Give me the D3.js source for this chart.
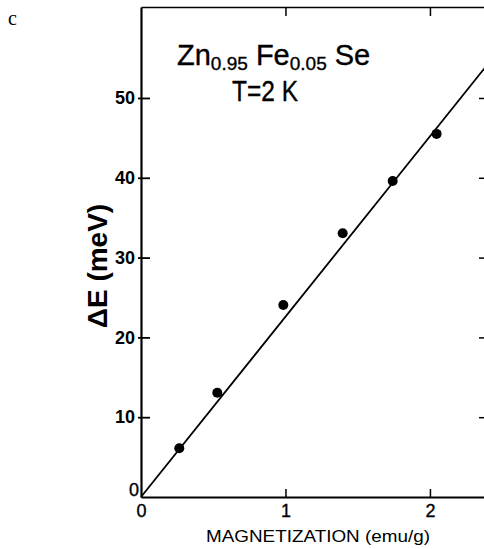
<!DOCTYPE html>
<html>
<head>
<meta charset="utf-8">
<script src="https://cdn.jsdelivr.net/npm/d3@7"></script>
<style>
  body { margin: 0; background: #fff; }
  svg { display: block; overflow: hidden; }
  text { font-family: "Liberation Sans", Arial, sans-serif; fill: #000; }
  .axis path, .axis line { stroke: #000; }
  .axis text { font-size: 17px; }
  .heavy { stroke: #000; stroke-width: 0.35px; }
</style>
</head>
<body>
<div id="chart"></div>
<script>
// data
var magnetization = [0.265, 0.528, 0.985, 1.396, 1.742, 2.046];   // emu/g
var deltaE = [6.1, 13.07, 24.06, 33.05, 39.6, 45.5];              // meV
var fitX = [0, 2.39];
var fitY = [0, 54];
var xTicks = [0, 1, 2];
var yTicks = [0, 10, 20, 30, 40, 50];

var W = 484, H = 549;
var margin = { top: 7, left: 141 },
    width = 345,
    height = 490;

var svg = d3.select("#chart").append("svg")
    .attr("width", W)
    .attr("height", H);

var g = svg.append("g")
    .attr("transform", "translate(" + margin.left + "," + margin.top + ")");

var x = d3.scaleLinear().domain([0, 2.388]).range([0, width]);
var y = d3.scaleLinear().domain([0, 61.4]).range([height, 0]);

// bottom axis, ticks pointing in
var xAxis = g.append("g")
    .attr("class", "axis")
    .attr("transform", "translate(0," + height + ")")
    .call(d3.axisBottom(x).tickValues(xTicks).tickSizeInner(-8).tickSizeOuter(0)
        .tickPadding(4).tickFormat(d3.format("d")));
xAxis.select(".domain").attr("stroke-width", 2);
xAxis.selectAll(".tick line").attr("stroke-width", 1.5);
xAxis.selectAll(".tick text").attr("dy", "0.9em").attr("class", "heavy").style("font-size", "18px");
xAxis.selectAll(".tick").filter(function (d) { return d === 0; }).select("line").remove();

// left axis, ticks pointing in
var yAxis = g.append("g")
    .attr("class", "axis")
    .call(d3.axisLeft(y).tickValues(yTicks).tickSizeInner(-9).tickSizeOuter(0)
        .tickPadding(6).tickFormat(d3.format("d")));
yAxis.select(".domain").attr("stroke-width", 2.2);
yAxis.selectAll(".tick line").attr("x1", -3).attr("stroke-width", 1.8);
yAxis.selectAll(".tick text").style("font-weight", "bold").style("font-size", "18px");
yAxis.selectAll(".tick").filter(function (d) { return d === 0; })
    .select("text").attr("x", -2).attr("dy", "-0.1em").attr("class", "heavy").style("font-weight", "normal");
yAxis.selectAll(".tick").filter(function (d) { return d === 0; }).select("line").remove();

// top frame with ticks
var topAxis = g.append("g")
    .attr("class", "axis")
    .call(d3.axisTop(x).tickValues([1, 2]).tickSizeInner(-9).tickSizeOuter(0).tickFormat(""));
topAxis.select(".domain").attr("stroke-width", 1.6);
topAxis.selectAll(".tick line").attr("stroke-width", 1.5);

// right frame with ticks
var rightAxis = g.append("g")
    .attr("class", "axis")
    .attr("transform", "translate(" + width + ",0)")
    .call(d3.axisRight(y).tickValues(yTicks.slice(1)).tickSizeInner(-7).tickSizeOuter(0).tickFormat(""));
rightAxis.select(".domain").attr("stroke-width", 2);
rightAxis.selectAll(".tick line").attr("stroke-width", 1.5);

// fitted line
var line = d3.line()
    .x(function (d) { return x(d[0]); })
    .y(function (d) { return y(d[1]); });

g.append("path")
    .datum(d3.zip(fitX, fitY))
    .attr("d", line)
    .attr("fill", "none")
    .attr("stroke", "#000")
    .attr("stroke-width", 1.8);

// data points
g.selectAll("circle.pt")
    .data(d3.zip(magnetization, deltaE))
    .enter().append("circle")
    .attr("class", "pt")
    .attr("cx", function (d) { return x(d[0]); })
    .attr("cy", function (d) { return y(d[1]); })
    .attr("r", 5)
    .attr("fill", "#000");

// panel letter
svg.append("text")
    .attr("x", 8).attr("y", 25)
    .style("font-family", "'Liberation Serif', 'Times New Roman', serif")
    .style("font-size", "20px")
    .text("c");

// title
var title = svg.append("text")
    .attr("class", "heavy")
    .attr("x", 177).attr("y", 65)
    .style("font-size", "29px");
title.append("tspan").text("Zn");
title.append("tspan").attr("dy", 5).style("font-size", "19px").text("0.95");
title.append("tspan").attr("dy", -5).text(" Fe");
title.append("tspan").attr("dy", 5).style("font-size", "19px").text("0.05");
title.append("tspan").attr("dy", -5).text(" Se");

svg.append("text")
    .attr("class", "heavy")
    .attr("x", 232).attr("y", 101)
    .attr("textLength", 66)
    .attr("lengthAdjust", "spacingAndGlyphs")
    .style("font-size", "29px")
    .text("T=2 K");

// axis titles
svg.append("text")
    .attr("transform", "translate(107,266) rotate(-90)")
    .attr("text-anchor", "middle")
    .style("font-size", "28px")
    .style("font-weight", "bold")
    .text("ΔE (meV)");

svg.append("text")
    .attr("x", 206).attr("y", 542)
    .attr("textLength", 224)
    .attr("lengthAdjust", "spacingAndGlyphs")
    .style("font-size", "17px")
    .text("MAGNETIZATION (emu/g)");
</script>
</body>
</html>
